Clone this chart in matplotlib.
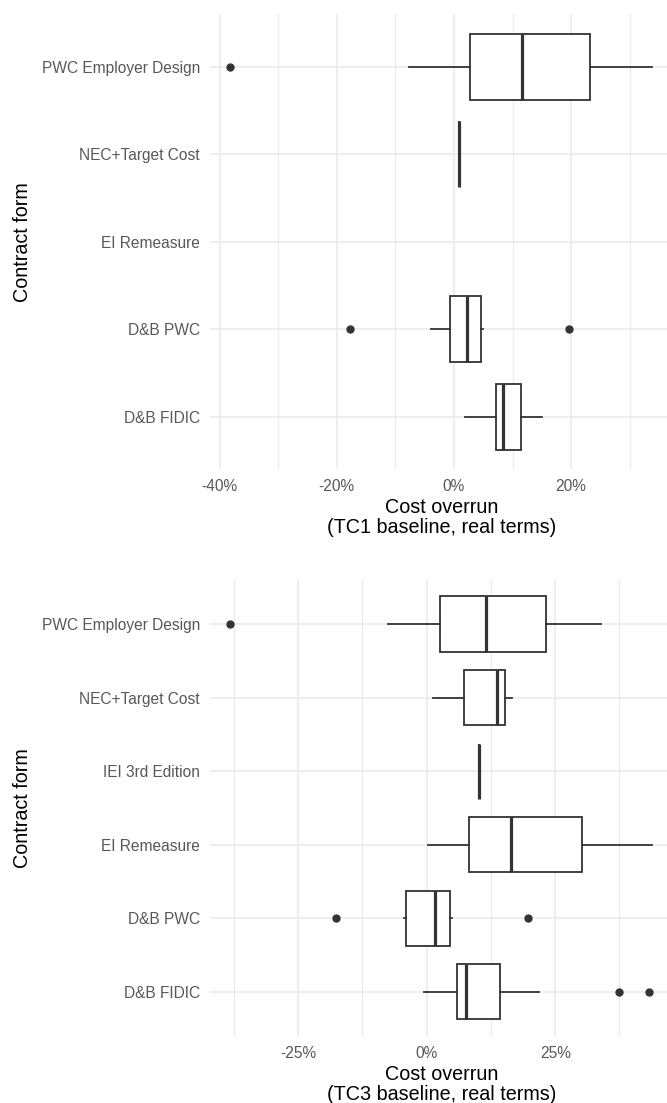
import matplotlib
matplotlib.use("Agg")
import matplotlib.pyplot as plt
from matplotlib.ticker import PercentFormatter, FixedLocator

plt.rcParams['font.family'] = ['Liberation Sans', 'DejaVu Sans']
plt.rcParams['axes.unicode_minus'] = False

# ---------------- data (percent cost overrun) ----------------
top_categories = ["PWC Employer Design", "NEC+Target Cost", "EI Remeasure", "D&B PWC", "D&B FIDIC"]
top_whislo = [-7.6, 0.9, None, -3.9, 1.9]
top_q1     = [2.7, 0.9, None, -0.75, 7.1]
top_median = [11.6, 0.9, None, 2.15, 8.4]
top_q3     = [23.2, 0.9, None, 4.55, 11.5]
top_whishi = [33.8, 0.9, None, 4.9, 15.1]
top_fliers = [[-38.2], [], [], [-17.7, 19.6], []]
top_ticks = [-40, -20, 0, 20]
top_minor = [-30, -10, 10, 30]

bot_categories = ["PWC Employer Design", "NEC+Target Cost", "IEI 3rd Edition", "EI Remeasure", "D&B PWC", "D&B FIDIC"]
bot_whislo = [-7.5, 1.2, 10.1, 0.2, -4.4, -0.5]
bot_q1     = [2.7, 7.2, 10.1, 8.2, -4.05, 5.9]
bot_median = [11.6, 13.6, 10.1, 16.4, 1.65, 7.7]
bot_q3     = [23.3, 15.2, 10.1, 30.2, 4.5, 14.3]
bot_whishi = [33.9, 16.6, 10.1, 43.8, 4.9, 21.8]
bot_fliers = [[-38.2], [], [], [], [-17.7, 19.7], [37.5, 43.3]]
bot_ticks = [-25, 0, 25]
bot_minor = [-37.5, -12.5, 12.5, 37.5]

# ---------------- styling ----------------
W, H = 667, 1103
fig = plt.figure(figsize=(W / 100, H / 100), dpi=100)

GRID = "#EBEBEB"
EDGE = "#333333"
TICKC = "#585858"


def panel(ax_rect, cats, wlo, q1, med, q3, whi, fl, xlim, ticks, minor, title2):
    ax = fig.add_axes(ax_rect)
    n = len(cats)
    pos = list(range(n, 0, -1))  # first category at top
    stats, positions = [], []
    for i in range(n):
        if med[i] is None:
            continue
        stats.append(dict(med=med[i], q1=q1[i], q3=q3[i], whislo=wlo[i], whishi=whi[i], fliers=fl[i]))
        positions.append(pos[i])
    ax.bxp(stats, positions=positions, vert=False, widths=0.75, patch_artist=True,
           showcaps=False,
           boxprops=dict(facecolor="white", edgecolor=EDGE, linewidth=1.3),
           whiskerprops=dict(color=EDGE, linewidth=1.3),
           medianprops=dict(color=EDGE, linewidth=2.3),
           flierprops=dict(marker="o", markerfacecolor=EDGE, markeredgecolor=EDGE, markersize=5),
           zorder=3)
    ax.set_xlim(*xlim)
    ax.set_ylim(0.4, n + 0.6)
    ax.set_yticks(pos)
    ax.set_yticklabels(cats)
    ax.xaxis.set_major_locator(FixedLocator(ticks))
    ax.xaxis.set_minor_locator(FixedLocator(minor))
    ax.xaxis.set_major_formatter(PercentFormatter(xmax=100, decimals=0))
    for s in ax.spines.values():
        s.set_visible(False)
    ax.grid(True, which="major", color=GRID, linewidth=1.2, zorder=0)
    ax.grid(True, which="minor", axis="x", color=GRID, linewidth=0.9, zorder=0)
    ax.set_axisbelow(True)
    ax.tick_params(which="both", length=0)
    ax.tick_params(axis="x", labelsize=11.2, labelcolor=TICKC, pad=7)
    ax.tick_params(axis="y", labelsize=11.2, labelcolor=TICKC, pad=7)
    ax.set_xlabel("Cost overrun\n" + title2, fontsize=14.2, color="black", labelpad=3, linespacing=1.07)
    return ax


ax1 = panel([209.7 / W, 1 - 469.2 / H, (673 - 209.7) / W, 455 / H],
            top_categories, top_whislo, top_q1, top_median, top_q3, top_whishi, top_fliers,
            (-41.7, 37.4), top_ticks, top_minor, "(TC1 baseline, real terms)")
ax2 = panel([209.7 / W, 1 - 1035.8 / H, (673 - 209.7) / W, 455.9 / H],
            bot_categories, bot_whislo, bot_q1, bot_median, bot_q3, bot_whishi, bot_fliers,
            (-42.16, 47.9), bot_ticks, bot_minor, "(TC3 baseline, real terms)")

fig.text(23 / W, 1 - 241.7 / H, "Contract form", rotation=90, ha="center", va="center", fontsize=14.2)
fig.text(23 / W, 1 - 807.9 / H, "Contract form", rotation=90, ha="center", va="center", fontsize=14.2)

fig.savefig("out.png", dpi=100)
